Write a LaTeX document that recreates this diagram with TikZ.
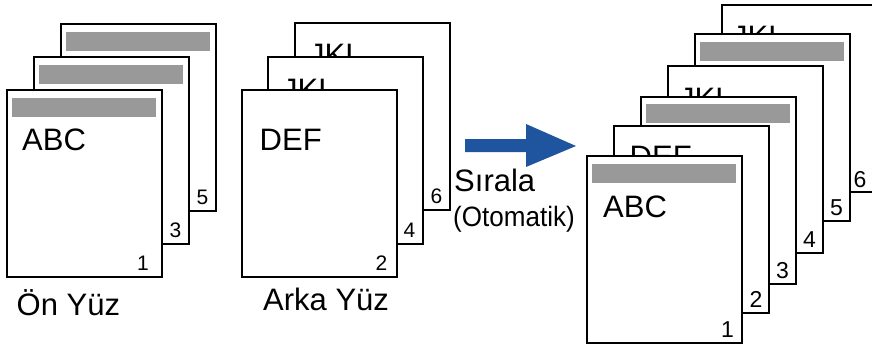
\documentclass[tikz,border=0pt]{standalone}
\usepackage{fontspec}
\setmainfont{Liberation Sans}
\usetikzlibrary{positioning}
\definecolor{bargray}{RGB}{153,153,153}
\definecolor{arrowblue}{RGB}{31,84,158}

\begin{document}
\begin{tikzpicture}[x=1pt,y=-1pt,
  sheet/.style={draw, line width=1.8pt, fill=white, minimum width=155pt,
    minimum height=187pt, inner sep=0pt, outer sep=0pt, anchor=north west},
  bar/.style={fill=bargray, minimum width=144pt, minimum height=19pt,
    inner sep=0pt, outer sep=0pt, anchor=north west},
  big/.style={font=\fontsize{31}{36}\selectfont, inner sep=0pt, anchor=base west},
  num/.style={font=\fontsize{21}{25}\selectfont, inner sep=0pt, anchor=base},
  bignum/.style={font=\fontsize{23}{27}\selectfont, inner sep=0pt, anchor=base},
  small/.style={font=\fontsize{28}{32}\selectfont, inner sep=0pt, anchor=base west}]
  \clip (0,0) rectangle (872,345);

  % --- FRONT SIDES (Ön Yüz) ---
  \node[sheet] (L5) at (61,24) {};
  \node[bar] (L5bar) at ([shift={(5,8)}]L5.north west) {};
  \node[num] (L5num) at ([shift={(-13.5,-7)}]L5.south east) {5};
  \node[sheet] (L3) at (34,57) {};
  \node[bar] (L3bar) at ([shift={(5,8)}]L3.north west) {};
  \node[num] (L3num) at ([shift={(-13.5,-7)}]L3.south east) {3};
  \node[sheet] (L1) at (7,90) {};
  \node[bar] (L1bar) at ([shift={(5,8)}]L1.north west) {};
  \node[big] (L1txt) at ([shift={(15,60)}]L1.north west) {ABC};
  \node[num] (L1num) at ([shift={(-19,-7)}]L1.south east) {1};
  \node[big] (front) at ([shift={(9.5,38)}]L1.south west) {Ön Yüz};

  % --- BACK SIDES (Arka Yüz) ---
  \node[sheet] (M6) at (295,23) {};
  \node[big] (M6txt) at ([shift={(14,43)}]M6.north west) {JKL};
  \node[num] (M6num) at ([shift={(-13.5,-7)}]M6.south east) {6};
  \node[sheet] (M4) at (268,57) {};
  \node[big] (M4txt) at ([shift={(14,43)}]M4.north west) {JKL};
  \node[num] (M4num) at ([shift={(-13.5,-7)}]M4.south east) {4};
  \node[sheet] (M2) at (242,90) {};
  \node[big] (M2txt) at ([shift={(17.5,60)}]M2.north west) {DEF};
  \node[num] (M2num) at ([shift={(-15.5,-7)}]M2.south east) {2};
  \node[big] (back) at ([shift={(21,33)}]M2.south west) {Arka Yüz};

  % --- SORT ARROW ---
  \fill[arrowblue] (465,139) -- (526,139) -- (526,124) -- (576,146)
    -- (526,167) -- (526,152) -- (465,152) -- cycle;
  \node[big] (sort) at (454,191) {Sırala};
  \node[small] (auto) at ([shift={(-1,35)}]sort.base west) {\scalebox{0.93}[1]{(Otomatik)}};

  % --- SORTED RESULT ---
  \node[sheet] (R6) at (722,5) {};
  \node[big] (R6txt) at ([shift={(10,43)}]R6.north west) {JKL};
  \node[bignum] (R6num) at ([shift={(-17,-5)}]R6.south east) {6};
  \node[sheet] (R5) at (695,34) {};
  \node[bar] (R5bar) at ([shift={(5,8)}]R5.north west) {};
  \node[bignum] (R5num) at ([shift={(-13.5,-5.5)}]R5.south east) {5};
  \node[sheet] (R4) at (668,66) {};
  \node[big] (R4txt) at ([shift={(11,43)}]R4.north west) {JKL};
  \node[bignum] (R4num) at ([shift={(-13.5,-5.5)}]R4.south east) {4};
  \node[sheet] (R3) at (641,97) {};
  \node[bar] (R3bar) at ([shift={(5,7)}]R3.north west) {};
  \node[bignum] (R3num) at ([shift={(-13.5,-5.5)}]R3.south east) {3};
  \node[sheet] (R2) at (614,126) {};
  \node[big] (R2txt) at ([shift={(15.5,41)}]R2.north west) {DEF};
  \node[bignum] (R2num) at ([shift={(-13,-5.5)}]R2.south east) {2};
  \node[sheet] (R1) at (587,156) {};
  \node[bar] (R1bar) at ([shift={(5,8)}]R1.north west) {};
  \node[big] (R1txt) at ([shift={(16,61)}]R1.north west) {ABC};
  \node[bignum] (R1num) at ([shift={(-14.5,-6)}]R1.south east) {1};
\end{tikzpicture}
\end{document}
